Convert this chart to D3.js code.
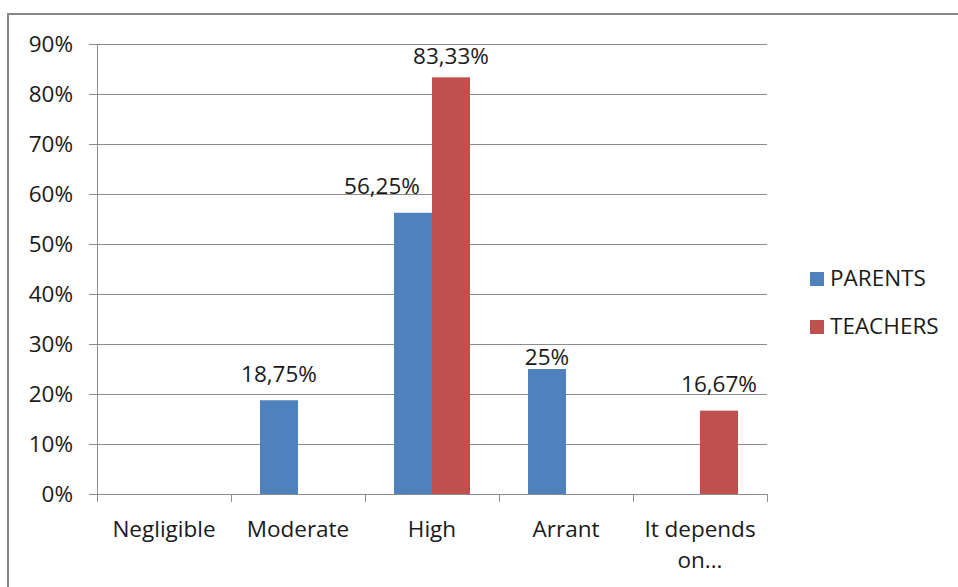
<!DOCTYPE html>
<html>
<head>
<meta charset="utf-8">
<script src="https://cdn.jsdelivr.net/npm/d3@7"></script>
<style>
	body { margin: 0; background: #fff; }
	text { font-family: "Open Sans", "Liberation Sans", sans-serif; fill: #1a1a1a; }
</style>
</head>
<body>
<svg id="chart" width="958" height="587"></svg>
<script>

// data
var categories = ["Negligible", "Moderate", "High", "Arrant", "It depends on..."];
var seriesNames = ["PARENTS", "TEACHERS"];
var parents = [0, 18.75, 56.25, 25, 0];
var teachers = [0, 0, 83.33, 0, 16.67];
var yTicks = [0, 10, 20, 30, 40, 50, 60, 70, 80, 90];
var colors = ["#4f81bd", "#c0504d"];

// labels shown above bars (Excel only labels the non-zero values)
var labelText = [
	[null, "18,75%", "56,25%", "25%", null],
	[null, null, "83,33%", null, "16,67%"]
];

var fontSize = "22.5px";

var svg = d3.select("#chart");

// outer frame
svg.append("rect")
	.attr("x", 8).attr("y", 14)
	.attr("width", 960).attr("height", 590)
	.attr("fill", "none")
	.attr("stroke", "#878787")
	.attr("stroke-width", 2);

var plot = { left: 97, right: 767, top: 44, bottom: 494 };

var x = d3.scaleBand()
	.domain(categories)
	.range([plot.left, plot.right])
	.paddingInner(0).paddingOuter(0);

var y = d3.scaleLinear()
	.domain([0, 90])
	.range([plot.bottom, plot.top]);

var barWidth = 38;

// grid lines
svg.append("g")
	.selectAll("line")
	.data(yTicks)
	.enter()
	.append("line")
		.attr("x1", plot.left - 8)
		.attr("x2", plot.right)
		.attr("y1", function(d){ return y(d); })
		.attr("y2", function(d){ return y(d); })
		.attr("stroke", "#8c8c8c")
		.attr("stroke-width", 1)
		.attr("shape-rendering", "crispEdges");

// y labels
svg.append("g")
	.selectAll("text")
	.data(yTicks)
	.enter()
	.append("text")
		.attr("x", plot.left - 24)
		.attr("y", function(d){ return y(d); })
		.attr("dy", "0.36em")
		.attr("text-anchor", "end")
		.style("font-size", fontSize)
		.text(function(d){ return d + "%"; });

// bars
var series = [parents, teachers];
series.forEach(function(values, si){
	svg.append("g")
		.selectAll("rect")
		.data(values)
		.enter()
		.filter(function(d){ return d > 0; })
		.append("rect")
			.attr("x", function(d){ return x(categories[values.indexOf(d)]) + x.bandwidth()/2 - barWidth + si*barWidth; })
			.attr("y", function(d){ return y(d); })
			.attr("width", barWidth)
			.attr("height", function(d){ return y(0) - y(d); })
			.attr("fill", colors[si]);
});

// axes lines (drawn over bars)
svg.append("line")
	.attr("x1", plot.left).attr("x2", plot.left)
	.attr("y1", plot.top).attr("y2", plot.bottom)
	.attr("stroke", "#8c8c8c")
	.attr("shape-rendering", "crispEdges");

svg.append("line")
	.attr("x1", plot.left).attr("x2", plot.right)
	.attr("y1", plot.bottom).attr("y2", plot.bottom)
	.attr("stroke", "#8c8c8c")
	.attr("shape-rendering", "crispEdges");

// category tick marks
var boundaries = categories.map(function(c){ return x(c); }).concat([plot.right]);
svg.append("g")
	.selectAll("line")
	.data(boundaries)
	.enter()
	.append("line")
		.attr("x1", function(d){ return d; })
		.attr("x2", function(d){ return d; })
		.attr("y1", plot.bottom)
		.attr("y2", plot.bottom + 8)
		.attr("stroke", "#8c8c8c")
		.attr("shape-rendering", "crispEdges");

// category labels
var catText = svg.append("g")
	.selectAll("text")
	.data(categories)
	.enter()
	.append("text")
		.attr("text-anchor", "middle")
		.attr("y", 537)
		.style("font-size", fontSize);

catText.each(function(d){
	var lines = d == "It depends on..." ? ["It depends", "on..."] : [d];
	var t = d3.select(this);
	lines.forEach(function(line, li){
		t.append("tspan")
			.attr("x", x(d) + x.bandwidth()/2)
			.attr("dy", li == 0 ? 0 : 31)
			.text(line);
	});
});

// value labels
var labelShift = [
	[0, 0, -31, 0, 0],
	[0, 0, 0, 0, 0]
];
var labelLift = [
	[0, 18, 19, 4, 0],
	[0, 0, 13, 0, 19]
];
labelText.forEach(function(labels, si){
	svg.append("g")
		.selectAll("text")
		.data(labels)
		.enter()
		.filter(function(d){ return d != null; })
		.append("text")
			.attr("text-anchor", "middle")
			.style("font-size", fontSize)
			.attr("x", function(d){
				var i = labels.indexOf(d);
				return x(categories[i]) + x.bandwidth()/2 - barWidth/2 + si*barWidth + labelShift[si][i];
			})
			.attr("y", function(d){
				var i = labels.indexOf(d);
				return y(series[si][i]) - labelLift[si][i];
			})
			.text(function(d){ return d; });
});

// legend
var legend = svg.append("g")
	.selectAll("g")
	.data(seriesNames)
	.enter()
	.append("g")
		.attr("transform", function(d, i){ return "translate(810," + (272 + i*48) + ")"; });

legend.append("rect")
	.attr("width", 14).attr("height", 14)
	.attr("fill", function(d, i){ return colors[i]; });

legend.append("text")
	.attr("x", 20)
	.attr("y", 14)
	.style("font-size", fontSize)
	.text(function(d){ return d; });

</script>
</body>
</html>
